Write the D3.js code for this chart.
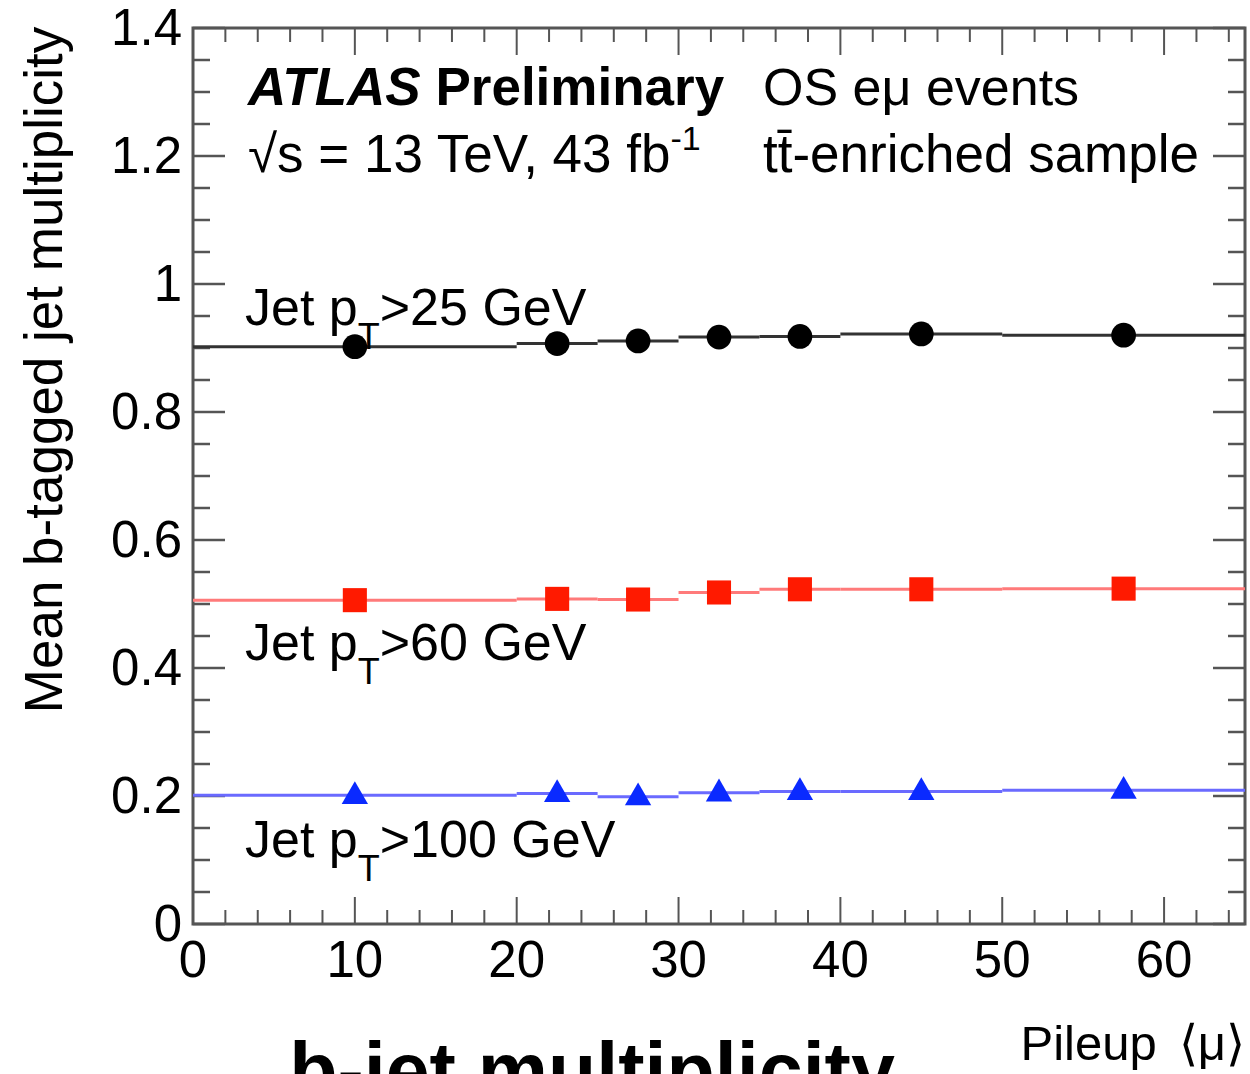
<!DOCTYPE html>
<html>
<head>
<meta charset="utf-8">
<script src="https://cdn.jsdelivr.net/npm/d3@7"></script>
<style>
  html, body { margin: 0; padding: 0; background: #fff; overflow: hidden; }
  text { font-family: "Liberation Sans", Arial, Helvetica, sans-serif; fill: #000; }
</style>
</head>
<body>
<div id="grafico"></div>
<script>
const WIDTH = 1250;
const HEIGHT = 1074;

// pileup bins (edges) and bin centres
const binEdges = [0, 20, 25, 30, 35, 40, 50, 65];
const pileup = [10, 22.5, 27.5, 32.5, 37.5, 45, 57.5];

// mean b-tagged jet multiplicity per bin
const pt25 = [0.902, 0.907, 0.911, 0.917, 0.918, 0.922, 0.920];
const pt60 = [0.506, 0.508, 0.507, 0.518, 0.523, 0.523, 0.524];
const pt100 = [0.201, 0.204, 0.199, 0.205, 0.207, 0.207, 0.209];

const xTicks = [0, 10, 20, 30, 40, 50, 60];
const yTicks = [0, 0.2, 0.4, 0.6, 0.8, 1, 1.2, 1.4];
const yTickLabels = ["0", "0.2", "0.4", "0.6", "0.8", "1", "1.2", "1.4"];

const margin = {left: 193, top: 28, right: 5, bottom: 150};
const w = WIDTH - margin.left - margin.right;
const h = HEIGHT - margin.top - margin.bottom;

let svg = d3.select("#grafico")
    .append("svg")
    .attr("width", WIDTH)
    .attr("height", HEIGHT);

let x = d3.scaleLinear().domain([0, 65]).range([0, w]);
let y = d3.scaleLinear().domain([0, 1.4]).range([h, 0]);

let g = svg.append("g")
    .attr("transform", `translate(${margin.left},${margin.top})`);

// ticks, all four sides, pointing inward
const xMinor = d3.range(0, 65.01, 2).filter(v => v % 10 !== 0);
const yMinor = d3.range(0, 1.401, 0.05).filter(v => Math.abs(v / 0.2 - Math.round(v / 0.2)) > 1e-6);
const tickColor = "#555";

function drawX(vals, len) {
    vals.forEach(v => {
        g.append("line").attr("x1", x(v)).attr("x2", x(v)).attr("y1", h).attr("y2", h - len)
            .style("stroke", tickColor).style("stroke-width", 2);
        g.append("line").attr("x1", x(v)).attr("x2", x(v)).attr("y1", 0).attr("y2", len)
            .style("stroke", tickColor).style("stroke-width", 2);
    });
}
function drawY(vals, len) {
    vals.forEach(v => {
        g.append("line").attr("x1", 0).attr("x2", len).attr("y1", y(v)).attr("y2", y(v))
            .style("stroke", tickColor).style("stroke-width", 2.5);
        g.append("line").attr("x1", w).attr("x2", w - len).attr("y1", y(v)).attr("y2", y(v))
            .style("stroke", tickColor).style("stroke-width", 2.5);
    });
}
drawX(xTicks, 27);
drawX(xMinor, 14);
drawY(yTicks, 32);
drawY(yMinor, 17);

// frame
g.append("rect")
    .attr("x", 0).attr("y", 0).attr("width", w).attr("height", h)
    .style("fill", "none").style("stroke", "#555").style("stroke-width", 3);

// tick labels
g.selectAll(".xlab").data(xTicks).enter().append("text")
    .attr("x", d => x(d))
    .attr("y", h + 53)
    .attr("text-anchor", "middle")
    .style("font-size", "51px")
    .text(d => d);

g.selectAll(".ylab").data(yTicks).enter().append("text")
    .attr("x", -11)
    .attr("y", d => y(d) + 17)
    .attr("text-anchor", "end")
    .style("font-size", "51px")
    .text((d, i) => yTickLabels[i]);

// series: step histogram + markers
const series = [
    {vals: pt25, line: "#333", marker: "circle", fill: "#000"},
    {vals: pt60, line: "#ff7a7a", marker: "square", fill: "#ff1a00"},
    {vals: pt100, line: "#6a6aff", marker: "triangle", fill: "#0a2aff"}
];

series.forEach(s => {
    s.vals.forEach((v, i) => {
        g.append("line")
            .attr("x1", x(binEdges[i])).attr("x2", x(binEdges[i + 1]))
            .attr("y1", y(v)).attr("y2", y(v))
            .style("stroke", s.line).style("stroke-width", 3);
    });
});

series.forEach(s => {
    let sym = s.marker === "circle" ? d3.symbolCircle
        : s.marker === "square" ? d3.symbolSquare : d3.symbolTriangle;
    let size = s.marker === "circle" ? 480 : s.marker === "square" ? 580 : 300;
    g.selectAll(null).data(s.vals).enter().append("path")
        .attr("d", d3.symbol().type(sym).size(size))
        .attr("transform", (d, i) => `translate(${x(pileup[i])},${y(d) + (s.marker === "triangle" ? 1 : 0)})`)
        .style("fill", s.fill);
});

// labels inside the plot
function ptLabel(ypos, cut) {
    let t = svg.append("text").attr("x", 245).attr("y", ypos).style("font-size", "52px");
    t.append("tspan").text("Jet p");
    t.append("tspan").attr("dy", 24).style("font-size", "36px").text("T");
    t.append("tspan").attr("dy", -24).text(">" + cut + " GeV");
}
ptLabel(325, "25");
ptLabel(660, "60");
ptLabel(857, "100");

let atlas = svg.append("text").attr("x", 248).attr("y", 105).style("font-size", "53px");
atlas.append("tspan").style("font-weight", "bold").style("font-style", "italic").text("ATLAS");
atlas.append("tspan").style("font-weight", "bold").text(" Preliminary");

svg.append("text").attr("x", 763).attr("y", 105).style("font-size", "52px").text("OS eμ events");

let energy = svg.append("text").attr("x", 248).attr("y", 172).style("font-size", "53px");
energy.append("tspan").text("√s = 13 TeV, 43 fb");
energy.append("tspan").attr("dy", -22).style("font-size", "34px").text("-1");

svg.append("text").attr("x", 763).attr("y", 172).style("font-size", "53px").text("tt\u0304-enriched sample");

// axis titles
svg.append("text")
    .attr("transform", "translate(62,370) rotate(-90)")
    .attr("text-anchor", "middle")
    .style("font-size", "53px")
    .text("Mean b-tagged jet multiplicity");

let xt = svg.append("text")
    .attr("x", 1245).attr("y", 1060)
    .attr("text-anchor", "end")
    .style("font-size", "49px");
xt.append("tspan").text("Pileup");
xt.append("tspan").attr("dx", 22).text("\u27E8\u03BC\u27E9");

svg.append("text")
    .attr("x", 592).attr("y", 1098)
    .attr("text-anchor", "middle")
    .style("font-size", "79px")
    .style("font-weight", "bold")
    .text("b-jet multiplicity");
</script>
</body>
</html>
